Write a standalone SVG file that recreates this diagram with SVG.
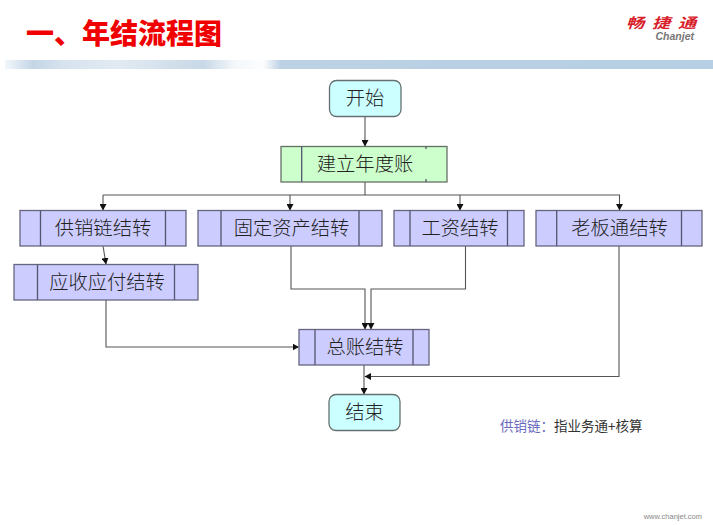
<svg xmlns="http://www.w3.org/2000/svg" width="713" height="525" viewBox="0 0 713 525">
<style>
text{font-family:"Noto Sans CJK SC","Liberation Sans",sans-serif}
.lb{font-size:19.3px;fill:#222;text-anchor:middle;font-weight:300}
.b{fill:#ccccff;stroke:#666680;stroke-width:1.3}
.g{fill:#ccffcc;stroke:#667066;stroke-width:1.3}
.c{fill:#ccffff;stroke:#667070;stroke-width:1.3}
.i{stroke:#555570;stroke-width:1.3;fill:none}
.k{fill:none;stroke:#555;stroke-width:1.1}
</style>
<defs>
<marker id="a" markerWidth="7" markerHeight="7" refX="6" refY="3.5" orient="auto" markerUnits="userSpaceOnUse"><path d="M0 0L6.500 3.500L0 7Z" fill="#111"/></marker>
<linearGradient id="band" x1="0" x2="1" y1="0" y2="0">
<stop offset="0" stop-color="#f2f6fa"/><stop offset=".04" stop-color="#c4d6e6"/><stop offset=".08" stop-color="#d6e2ee"/><stop offset=".16" stop-color="#e2ebf3"/><stop offset=".28" stop-color="#c8d8e6"/><stop offset=".325" stop-color="#f4f8fb"/><stop offset=".365" stop-color="#fcfdfe"/><stop offset=".39" stop-color="#bcd1e4"/><stop offset=".7" stop-color="#b9d0e4"/><stop offset="1" stop-color="#b6cfe4"/>
</linearGradient>
</defs>
<rect width="713" height="525" fill="#fff"/>
<rect x="5" y="60" width="708" height="9" fill="url(#band)"/>
<text x="26" y="44" font-size="28" font-weight="900" fill="#f00000">一、年结流程图</text>
<g id="logo">
<text transform="translate(626 28) scale(1.3 1)" font-size="14" font-weight="700" font-style="italic" fill="#d8202a" letter-spacing="6">畅捷通</text>
<text x="694" y="39.500" font-size="10.500" font-weight="700" font-style="italic" fill="#777" text-anchor="end" style="font-family:'Liberation Sans',sans-serif">Chanjet</text>
</g>
<g id="connectors">
<path class="k" d="M365 116V146" marker-end="url(#a)"/>
<path class="k" d="M365 182V195"/>
<path class="k" d="M103 195H619.500V210" marker-end="url(#a)"/>
<path class="k" d="M103 195V210" marker-end="url(#a)"/>
<path class="k" d="M290 195V210" marker-end="url(#a)"/>
<path class="k" d="M460 195V210" marker-end="url(#a)"/>
<path class="k" d="M103 246L106 264" marker-end="url(#a)"/>
<path class="k" d="M106 300V347H298.500" marker-end="url(#a)"/>
<path class="k" d="M291 246V289H365V329" marker-end="url(#a)"/>
<path class="k" d="M465.500 246V289H371V329" marker-end="url(#a)"/>
<path class="k" d="M364 365V394" marker-end="url(#a)"/>
<path class="k" d="M619 246V376.500H365" marker-end="url(#a)"/>
</g>
<g id="start"><rect class="c" x="329.500" y="80.500" width="71.500" height="36" rx="7"/><text class="lb" x="365" y="105">开始</text></g>
<g id="setup"><rect class="g" x="281" y="146.500" width="166" height="35.500"/><path class="i" d="M301.700 146.500V182M426 146.500V149M426 179V182"/><text class="lb" x="365" y="171">建立年度账</text></g>
<g id="supply"><rect class="b" x="20" y="210.500" width="166" height="35.500"/><path class="i" d="M40.500 210.500V246M165.500 210.500V246"/><text class="lb" x="103" y="235">供销链结转</text></g>
<g id="fixed"><rect class="b" x="198" y="210.500" width="184" height="35.500"/><path class="i" d="M221 210.500V246M359 210.500V246"/><text class="lb" x="291.500" y="235">固定资产结转</text></g>
<g id="salary"><rect class="b" x="394" y="210.500" width="130" height="35.500"/><path class="i" d="M410 210.500V246M507.500 210.500V246"/><text class="lb" x="460" y="235">工资结转</text></g>
<g id="boss"><rect class="b" x="536" y="210.500" width="166" height="35.500"/><path class="i" d="M556.700 210.500V246M681.500 210.500V246"/><text class="lb" x="619.500" y="235">老板通结转</text></g>
<g id="receivable"><rect class="b" x="14" y="264.500" width="184" height="35.500"/><path class="i" d="M37.500 264.500V300M174.500 264.500V300"/><text class="lb" x="107" y="289">应收应付结转</text></g>
<g id="ledger"><rect class="b" x="299" y="329.500" width="130" height="35.500"/><path class="i" d="M315 329.500V365M413 329.500V365"/><text class="lb" x="365" y="353.500">总账结转</text></g>
<g id="end"><rect class="c" x="329" y="394.500" width="71" height="36" rx="7"/><text class="lb" x="364.500" y="419">结束</text></g>
<text x="500" y="431" font-size="13.500" fill="#6a6ac0">供销链：<tspan fill="#333">指业务通+核算</tspan></text>
<text x="702" y="519" font-size="7.500" fill="#888" text-anchor="end" style="font-family:'Liberation Sans',sans-serif">www.chanjet.com</text>
</svg>
